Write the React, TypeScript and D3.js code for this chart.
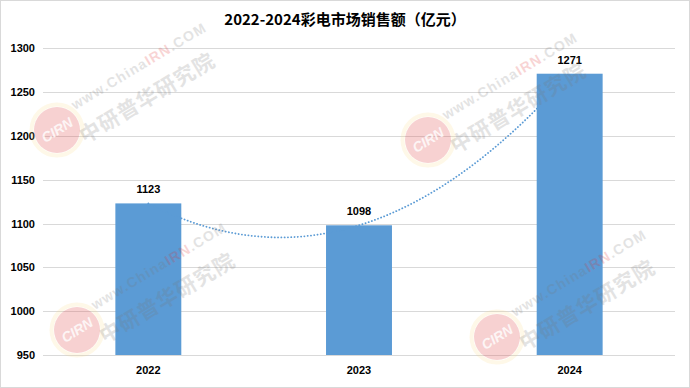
import React from "react";
import * as d3 from "d3";

const title = "2022-2024彩电市场销售额（亿元）";
const categories = ["2022", "2023", "2024"];
const sales = [1123, 1098, 1271];
const yTicks = [950, 1000, 1050, 1100, 1150, 1200, 1250, 1300];

const W = 690;
const H = 388;
const M = { left: 43, right: 15, top: 48.3, bottom: 33 };

const watermarkSpots: [number, number][] = [
  [57, 130],
  [428, 140],
  [77, 330],
  [497, 337],
];

function Watermark({ x, y }: { x: number; y: number }) {
  return (
    <g transform={`translate(${x},${y})`}>
      <circle r={25.5} fill="none" stroke="#f8d880" strokeWidth={4} opacity={0.18} />
      <circle r={23} fill="#e25a5a" opacity={0.28} />
      <text
        transform="rotate(-32)"
        textAnchor="middle"
        dy={5}
        fontFamily="Liberation Sans, Arial, sans-serif"
        fontWeight="bold"
        fontStyle="italic"
        fontSize={14}
        fill="#ffffff"
        opacity={0.8}
      >
        CIRN
      </text>
      <text
        transform="translate(18,-20) rotate(-31)"
        fontFamily="Liberation Sans, Arial, sans-serif"
        fontWeight="bold"
        fontSize={14}
        letterSpacing={1.2}
        fill="#777"
        opacity={0.2}
      >
        www.China<tspan fill="#e03030">IRN</tspan>.COM
      </text>
      <text
        transform="translate(28,14) rotate(-31)"
        fontFamily="Noto Sans CJK SC, sans-serif"
        fontWeight="bold"
        fontSize={21}
        letterSpacing={1}
        fill="#777"
        opacity={0.2}
      >
        中研普华研究院
      </text>
    </g>
  );
}

export default function App() {
  const x = d3
    .scaleBand<string>()
    .domain(categories)
    .range([M.left, W - M.right])
    .paddingInner(0.687)
    .paddingOuter(0.3435);
  const y = d3
    .scaleLinear()
    .domain([950, 1300])
    .range([H - M.bottom, M.top]);

  // Polynomial (order 2) trendline fitted to the three points
  const ts = sales.map((_, i) => i);
  const [c0, c1, c2] = (() => {
    const [y0, y1, y2] = sales;
    const a = (y2 - 2 * y1 + y0) / 2;
    const b = y1 - y0 - a;
    return [y0, b, a];
  })();
  const tScale = d3
    .scaleLinear()
    .domain([0, ts.length - 1])
    .range([
      (x(categories[0]) ?? 0) + x.bandwidth() / 2,
      (x(categories[categories.length - 1]) ?? 0) + x.bandwidth() / 2,
    ]);
  const trendPts: [number, number][] = d3
    .range(0, 2.0001, 0.02)
    .map((t) => [tScale(t), y(c0 + c1 * t + c2 * t * t)]);
  const trendPath = d3.line()(trendPts) ?? "";

  const numFont = "Liberation Sans, Arial, sans-serif";

  return (
    <svg
      width={W}
      height={H}
      style={{ position: "absolute", left: 0, top: 0, background: "#fff" }}
    >
      <rect x={0} y={0} width={W} height={H} fill="#ffffff" />
      <rect
        x={0.5}
        y={0.5}
        width={W - 1}
        height={H - 1}
        fill="none"
        stroke="#d9d9d9"
      />

      <text
        x={W / 2}
        y={25}
        textAnchor="middle"
        fontFamily="Noto Sans CJK SC, sans-serif"
        fontWeight="bold"
        fontSize={15}
        fill="#000"
      >
        {title}
      </text>

      {yTicks.map((t) => (
        <g key={t}>
          <line
            x1={M.left}
            x2={W - M.right}
            y1={Math.round(y(t)) + 0.5}
            y2={Math.round(y(t)) + 0.5}
            stroke="#d9d9d9"
            strokeWidth={1}
          />
          <text
            x={35}
            y={y(t) + 4}
            textAnchor="end"
            fontFamily={numFont}
            fontWeight="bold"
            fontSize={11}
            fill="#000"
          >
            {t}
          </text>
        </g>
      ))}

      {categories.map((c, i) => (
        <g key={c}>
          <rect
            x={x(c)}
            y={y(sales[i])}
            width={x.bandwidth()}
            height={y(950) - y(sales[i])}
            fill="#5b9bd5"
          />
          <text
            x={(x(c) ?? 0) + x.bandwidth() / 2}
            y={y(sales[i]) - 10}
            textAnchor="middle"
            fontFamily={numFont}
            fontWeight="bold"
            fontSize={11}
            fill="#000"
          >
            {sales[i]}
          </text>
          <text
            x={(x(c) ?? 0) + x.bandwidth() / 2}
            y={374}
            textAnchor="middle"
            fontFamily={numFont}
            fontWeight="bold"
            fontSize={11}
            fill="#000"
          >
            {c}
          </text>
        </g>
      ))}

      <path
        d={trendPath}
        fill="none"
        stroke="#5b9bd5"
        strokeWidth={1.8}
        strokeDasharray="0.1 3.2"
        strokeLinecap="round"
      />

      {watermarkSpots.map(([wx, wy], i) => (
        <Watermark key={i} x={wx} y={wy} />
      ))}
    </svg>
  );
}
